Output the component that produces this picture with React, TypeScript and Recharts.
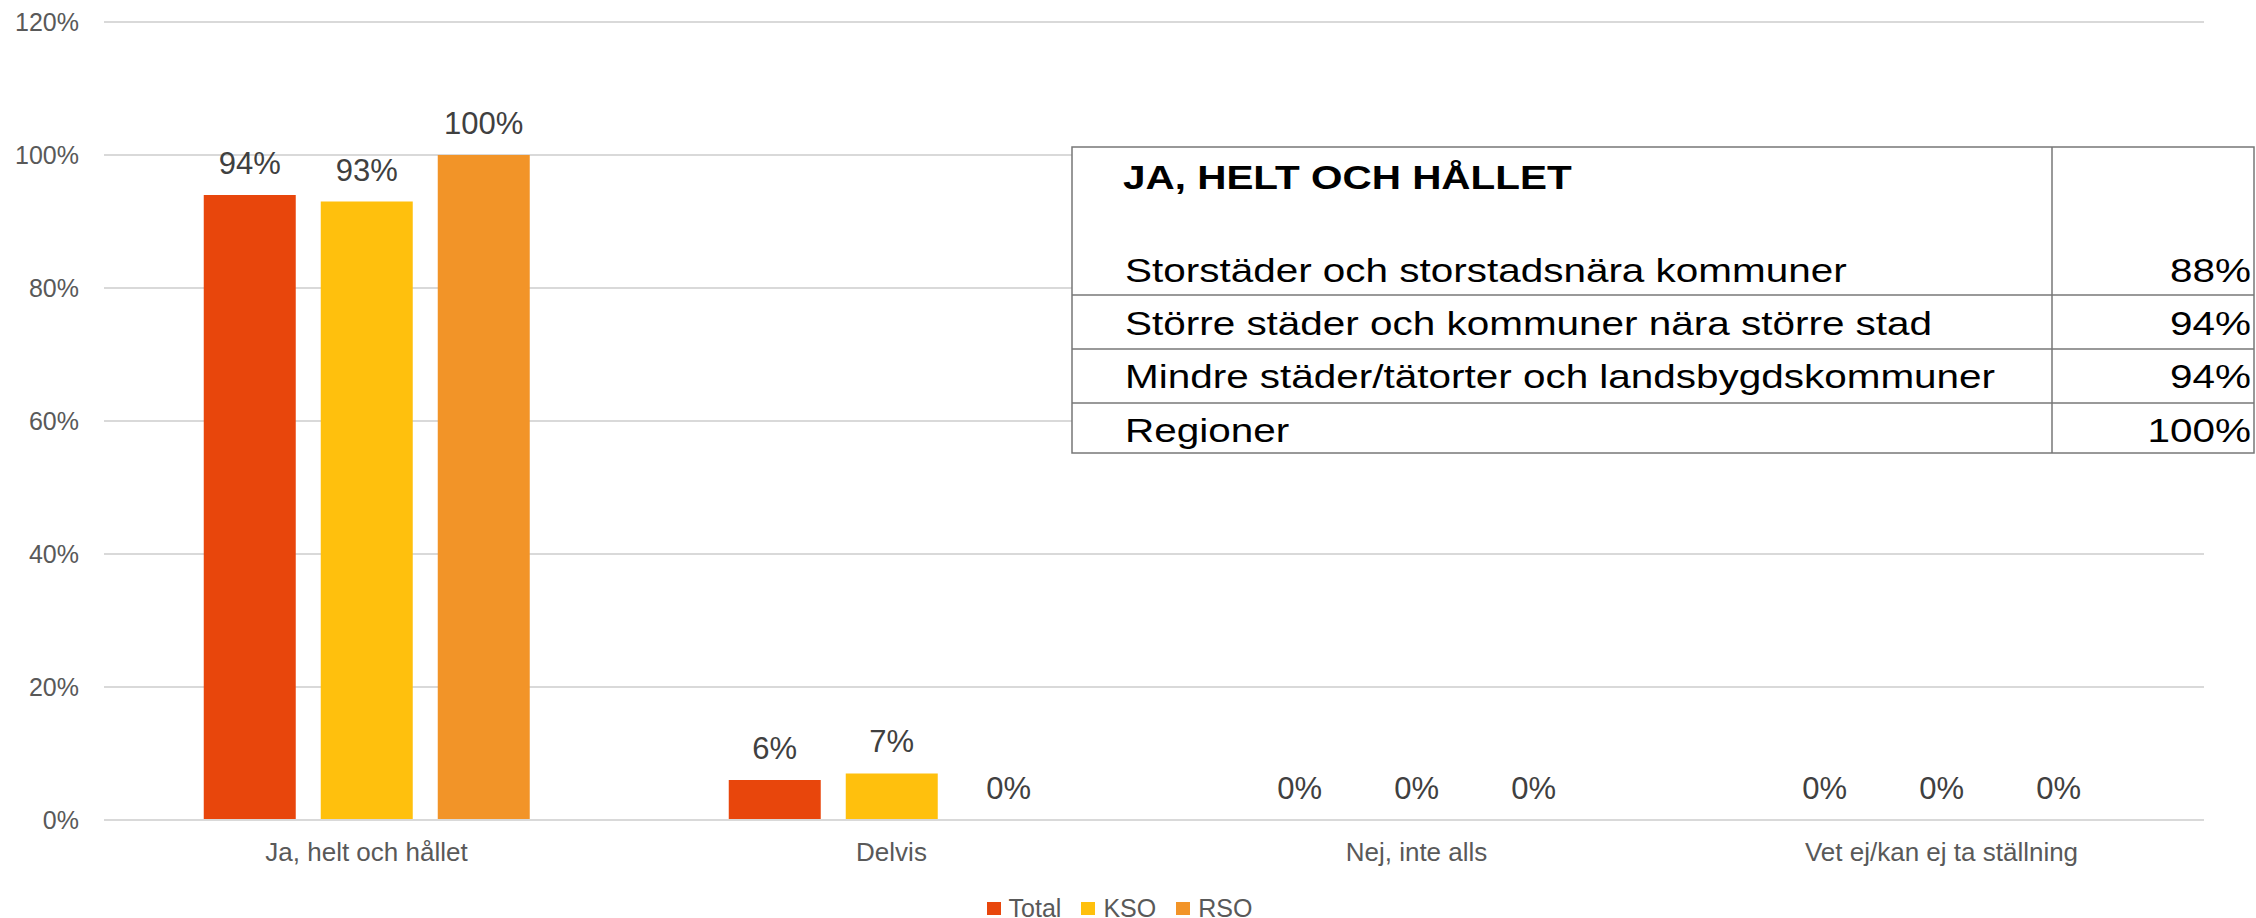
import React from 'react';
import { BarChart, Bar, XAxis, YAxis, CartesianGrid, Legend, LabelList } from 'recharts';

const categories = ['Ja, helt och hållet', 'Delvis', 'Nej, inte alls', 'Vet ej/kan ej ta ställning'];
const totalValues = [94, 6, 0, 0];
const ksoValues = [93, 7, 0, 0];
const rsoValues = [100, 0, 0, 0];
const seriesNames = ['Total', 'KSO', 'RSO'];
const yTicks = [0, 20, 40, 60, 80, 100, 120];

const tableTitle = 'JA, HELT OCH HÅLLET';
const regionGroups = [
  'Storstäder och storstadsnära kommuner',
  'Större städer och kommuner nära större stad',
  'Mindre städer/tätorter och landsbygdskommuner',
  'Regioner',
];
const regionShares = [88, 94, 94, 100];

const COLORS = ['#E8460C', '#FFC00D', '#F29428'];
const FONT = "'Liberation Sans', Arial, sans-serif";

const data = categories.map((c, i) => ({
  category: c,
  Total: totalValues[i],
  KSO: ksoValues[i],
  RSO: rsoValues[i],
}));

const pct = (v: any) => `${v}%`;

const renderLegend = (props: any) => {
  const payload = [...(props.payload || [])].sort(
    (a: any, b: any) => seriesNames.indexOf(a.value) - seriesNames.indexOf(b.value)
  );
  return (
    <div
      style={{
        display: 'flex',
        justifyContent: 'center',
        alignItems: 'center',
        height: 30,
        paddingRight: 17,
        fontFamily: FONT,
        fontSize: 25,
        color: '#595959',
      }}
    >
      {payload.map((e: any, i: number) => (
        <div key={e.value} style={{ display: 'flex', alignItems: 'center', marginLeft: i === 0 ? 0 : 20 }}>
          <span style={{ width: 14, height: 13, background: e.color, marginRight: 8, display: 'inline-block' }} />
          <span>{e.value}</span>
        </div>
      ))}
    </div>
  );
};

// overlay table layout (styling only)
const TBL = { left: 1072, top: 147, right: 2254, bottom: 453, divider: 2052 };
const rowLines = [295, 349, 403];
const rowBaselines = [282, 335, 388, 442];

const Table = () => (
  <svg
    width={2256}
    height={918}
    style={{ position: 'absolute', left: 0, top: 0, pointerEvents: 'none' }}
  >
    <rect
      x={TBL.left}
      y={TBL.top}
      width={TBL.right - TBL.left}
      height={TBL.bottom - TBL.top}
      fill="#ffffff"
      stroke="#777777"
      strokeWidth={1.5}
    />
    <line x1={TBL.divider} x2={TBL.divider} y1={TBL.top} y2={TBL.bottom} stroke="#777777" strokeWidth={1.5} />
    {rowLines.map((y) => (
      <line key={y} x1={TBL.left} x2={TBL.right} y1={y} y2={y} stroke="#777777" strokeWidth={1.5} />
    ))}
    <text
      transform={`translate(1123 189) scale(1.19 1)`}
      fontFamily={FONT}
      fontWeight="bold"
      fontSize={34}
      fill="#000"
    >
      {tableTitle}
    </text>
    {regionGroups.map((g, i) => (
      <text
        key={g}
        transform={`translate(1125 ${rowBaselines[i]}) scale(1.19 1)`}
        fontFamily={FONT}
        fontSize={34}
        fill="#000"
      >
        {g}
      </text>
    ))}
    {regionShares.map((v, i) => (
      <text
        key={i}
        transform={`translate(2251 ${rowBaselines[i]}) scale(1.19 1)`}
        fontFamily={FONT}
        fontSize={34}
        fill="#000"
        textAnchor="end"
      >
        {pct(v)}
      </text>
    ))}
  </svg>
);

export default function App() {
  return (
    <div style={{ position: 'absolute', left: 0, top: 0, width: 2256, height: 918, background: '#fff' }}>
      <BarChart
        width={2256}
        height={918}
        data={data}
        margin={{ top: 22, right: 52, bottom: 38, left: 0 }}
        barCategoryGap="19%"
        barGap={25}
        style={{ fontFamily: FONT }}
      >
        <CartesianGrid vertical={false} stroke="#d9d9d9" strokeWidth={2} />
        <XAxis
          dataKey="category"
          height={60}
          axisLine={{ stroke: '#d9d9d9', strokeWidth: 2 }}
          tickLine={false}
          tickSize={0}
          tickMargin={23}
          tick={{ fill: '#595959', fontSize: 26, fontFamily: FONT }}
          interval={0}
        />
        <YAxis
          width={104}
          domain={[0, 120]}
          ticks={yTicks}
          tickFormatter={pct}
          axisLine={false}
          tickLine={false}
          tickSize={0}
          tickMargin={25}
          tick={{ fill: '#595959', fontSize: 25, fontFamily: FONT }}
        />
        <Legend
          verticalAlign="middle"
          align="center"
          layout="horizontal"
          content={renderLegend}
          wrapperStyle={{ top: 893, left: 0, width: 2256 }}
        />
        {seriesNames.map((name, i) => (
          <Bar
            key={name}
            dataKey={name}
            name={name}
            fill={COLORS[i]}
            minPointSize={0.01}
            isAnimationActive={false}
          >
            <LabelList
              dataKey={name}
              position="top"
              offset={21}
              formatter={pct}
              fill="#404040"
              fontSize={31}
              fontFamily={FONT}
            />
          </Bar>
        ))}
      </BarChart>
      <Table />
    </div>
  );
}
